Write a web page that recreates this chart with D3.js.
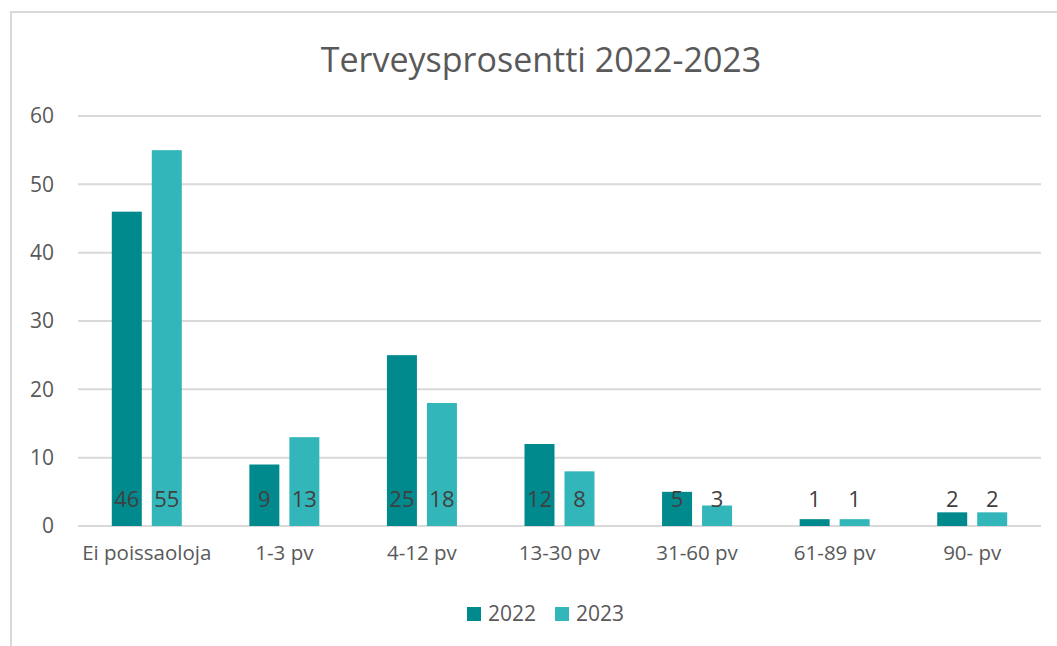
<!DOCTYPE html>
<html>
<head>
<meta charset="utf-8">
<script src="https://cdn.jsdelivr.net/npm/d3@7"></script>
<style>
  body { margin: 0; background: #fff; }
  text { font-family: "Open Sans", "Liberation Sans", sans-serif; fill: #595959; }
</style>
</head>
<body>
<div class="chart"></div>
<script>
// data
var categories = ["Ei poissaoloja", "1-3 pv", "4-12 pv", "13-30 pv", "31-60 pv", "61-89 pv", "90- pv"];
var years = ["2022", "2023"];
var values2022 = [46, 9, 25, 12, 5, 1, 2];
var values2023 = [55, 13, 18, 8, 3, 1, 2];
var yTicks = [0, 10, 20, 30, 40, 50, 60];
var colors = ["#008a8e", "#33b6b9"];

var W = 1057, H = 646;
var plotLeft = 78, plotRight = 1041, plotTop = 116, plotBottom = 526;

var svg = d3.select(".chart").append("svg")
    .attr("width", W)
    .attr("height", H);

// chart border (only top and left are in the screenshot)
svg.append("path")
    .attr("d", "M11," + H + "V12H" + W)
    .attr("fill", "none")
    .attr("stroke", "#d9d9d9")
    .attr("stroke-width", 2);

svg.append("text")
    .attr("x", 541).attr("y", 72)
    .attr("text-anchor", "middle")
    .style("font-size", "34px")
    .text("Terveysprosentti 2022-2023");

var x = d3.scaleBand().domain(categories).range([plotLeft, plotRight]);
var xs = d3.scaleBand().domain(years).range([0, 70]).paddingInner(0.25);
var y = d3.scaleLinear().domain([0, 60]).range([plotBottom, plotTop]);

// gridlines
svg.append("g").selectAll("line")
    .data(yTicks)
    .enter().append("line")
    .attr("x1", plotLeft).attr("x2", plotRight)
    .attr("y1", d => y(d)).attr("y2", d => y(d))
    .attr("stroke", "#d9d9d9")
    .attr("stroke-width", 2);

// y axis labels
var yAxis = svg.append("g")
    .attr("transform", "translate(" + 54 + ",0)")
    .call(d3.axisLeft(y).tickValues(yTicks).tickSize(0).tickPadding(0));
yAxis.select(".domain").remove();
yAxis.selectAll("text").style("font-size", "21px").attr("fill", "#595959");

// x axis labels
var xAxis = svg.append("g")
    .attr("transform", "translate(0," + plotBottom + ")")
    .call(d3.axisBottom(x).tickSize(0).tickPadding(19));
xAxis.select(".domain").remove();
xAxis.selectAll("text").style("font-size", "20.5px").attr("fill", "#595959");

var series = [values2022, values2023];
var groups = svg.append("g").selectAll("g")
    .data(years)
    .enter().append("g");

groups.each(function (yr, si) {
    var g = d3.select(this);
    var rows = categories.map((c, i) => ({ cat: c, v: series[si][i] }));
    var off = (x.bandwidth() - 70) / 2;
    g.selectAll("rect")
        .data(rows)
        .enter().append("rect")
        .attr("x", d => x(d.cat) + off + xs(yr))
        .attr("y", d => y(d.v))
        .attr("width", xs.bandwidth())
        .attr("height", d => plotBottom - y(d.v))
        .attr("fill", colors[si]);
    g.selectAll("text")
        .data(rows)
        .enter().append("text")
        .attr("x", d => x(d.cat) + off + xs(yr) + xs.bandwidth() / 2)
        .attr("y", plotBottom - 27)
        .attr("text-anchor", "middle")
        .attr("dy", "0.35em")
        .style("font-size", "22px")
        .style("fill", "#404040")
        .text(d => d.v);
});

// legend
var legend = svg.append("g").selectAll("g")
    .data(years)
    .enter().append("g")
    .attr("transform", (d, i) => "translate(" + (467 + i * 88) + ",607)");
legend.append("rect")
    .attr("width", 14).attr("height", 14)
    .attr("fill", (d, i) => colors[i]);
legend.append("text")
    .attr("x", 21).attr("y", 7)
    .attr("dy", "0.35em")
    .style("font-size", "21px")
    .text(d => d);
</script>
</body>
</html>
